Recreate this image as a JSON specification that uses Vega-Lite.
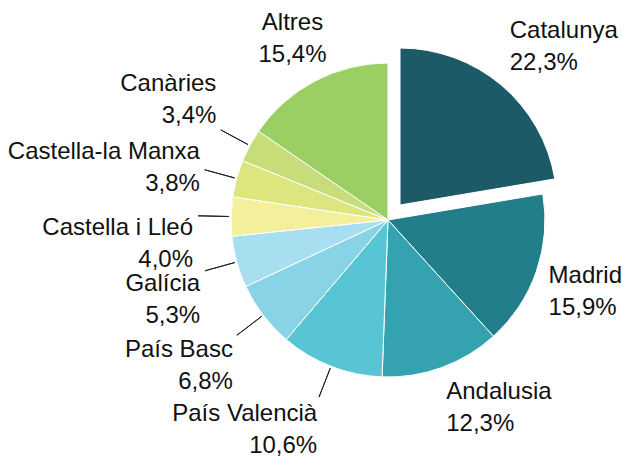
{
  "$schema": "https://vega.github.io/schema/vega-lite/v6.json",
  "width": 400,
  "height": 400,
  "autosize": {"type": "none"},
  "padding": {"left": 188, "top": 20, "right": 35, "bottom": 56},
  "background": "white",
  "config": {"view": {"stroke": null}, "text": {"font": "Liberation Sans"}},
  "data": {
    "values": [
      {"region": "Catalunya", "value": 22.3, "order": 1, "label": "Catalunya\n22,3%"},
      {"region": "Madrid", "value": 15.9, "order": 2, "label": "Madrid\n15,9%"},
      {"region": "Andalusia", "value": 12.3, "order": 3, "label": "Andalusia\n12,3%"},
      {"region": "País Valencià", "value": 10.6, "order": 4, "label": "País Valencià\n10,6%"},
      {"region": "País Basc", "value": 6.8, "order": 5, "label": "País Basc\n6,8%"},
      {"region": "Galícia", "value": 5.3, "order": 6, "label": "Galícia\n5,3%"},
      {"region": "Castella i Lleó", "value": 4.0, "order": 7, "label": "Castella i Lleó\n4,0%"},
      {"region": "Castella-la Manxa", "value": 3.8, "order": 8, "label": "Castella-la Manxa\n3,8%"},
      {"region": "Canàries", "value": 3.4, "order": 9, "label": "Canàries\n3,4%"},
      {"region": "Altres", "value": 15.4, "order": 10, "label": "Altres\n15,4%"}
    ]
  },
  "encoding": {
    "theta": {"field": "value", "type": "quantitative", "stack": true},
    "order": {"field": "order", "type": "quantitative"}
  },
  "layer": [
    {
      "mark": {"type": "arc", "radius": 157, "stroke": "white", "strokeWidth": 1},
      "encoding": {
        "color": {
          "field": "region", "type": "nominal", "legend": null,
          "scale": {
            "domain": ["Catalunya", "Madrid", "Andalusia", "País Valencià", "País Basc", "Galícia", "Castella i Lleó", "Castella-la Manxa", "Canàries", "Altres"],
            "range": ["#1c5a68", "#237e8c", "#35a2b0", "#57c5d3", "#88d3e6", "#a8dff0", "#f3ef9a", "#dde57f", "#c7dd7a", "#9ccf63"]
          }
        },
        "opacity": {"condition": {"test": "datum.region === 'Catalunya'", "value": 0}, "value": 1}
      }
    },
    {
      "mark": {"type": "arc", "radius": 157, "stroke": "white", "strokeWidth": 1, "xOffset": 12, "yOffset": -15},
      "encoding": {
        "color": {"field": "region", "type": "nominal", "legend": null},
        "opacity": {"condition": {"test": "datum.region === 'Catalunya'", "value": 1}, "value": 0}
      }
    },
    {
      "mark": {"type": "arc", "radius": 190, "radius2": 159, "padAngle": 3.14, "fill": "transparent", "stroke": "#222222", "strokeWidth": 1},
      "encoding": {
        "strokeOpacity": {"condition": {"test": "indexof(['País Valencià','País Basc','Galícia','Castella i Lleó','Castella-la Manxa','Canàries'], datum.region) >= 0", "value": 1}, "value": 0}
      }
    },
    {
      "mark": {
        "type": "text",
        "fontSize": 24,
        "lineBreak": "\n",
        "lineHeight": 32,
        "fill": "#111111",
        "align": {"expr": "indexof(['Catalunya','Madrid','Andalusia'], datum.region) >= 0 ? 'left' : (datum.region === 'Altres' ? 'center' : 'right')"},
        "baseline": {"expr": "indexof(['Catalunya','Canàries'], datum.region) >= 0 ? 'bottom' : (indexof(['Madrid','Castella-la Manxa','Altres'], datum.region) >= 0 ? 'middle' : 'top')"},
        "dy": {"expr": "indexof(['Catalunya','Canàries'], datum.region) >= 0 ? -32 : (indexof(['Castella-la Manxa','Altres'], datum.region) >= 0 ? -16 : 0)"},
        "radius": {"expr": "indexof(['Catalunya','Madrid','Andalusia'], datum.region) >= 0 ? 170 : (datum.region === 'Altres' ? 205 : 195)"},
        "xOffset": {"expr": "datum.region === 'Catalunya' ? 12 : 0"},
        "yOffset": {"expr": "datum.region === 'Catalunya' ? -15 : 0"}
      },
      "encoding": {
        "text": {"field": "label", "type": "nominal"}
      }
    }
  ]
}
